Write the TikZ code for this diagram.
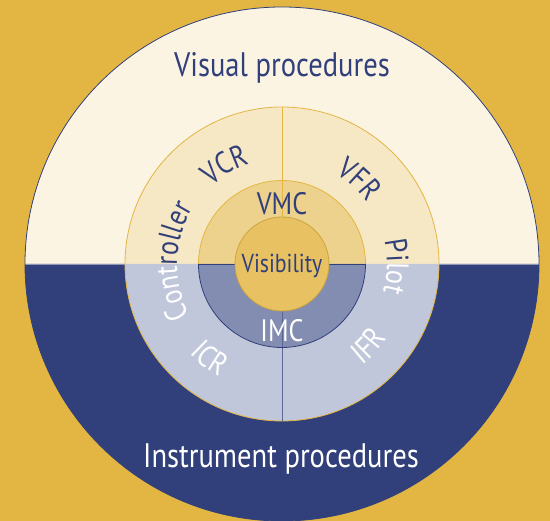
\documentclass[tikz,border=0pt]{standalone}
\usepackage{fontspec}
\setmainfont[FakeStretch=0.84]{PT Sans}
\usetikzlibrary{decorations.text}

\definecolor{proc_gold}{HTML}{E3B643}
\definecolor{vis_cream}{HTML}{FBF4E3}
\definecolor{vis_light}{HTML}{F7E8C5}
\definecolor{vis_mid}{HTML}{EDD28D}
\definecolor{vis_core}{HTML}{E8C262}
\definecolor{ins_navy}{HTML}{31407B}
\definecolor{ins_light}{HTML}{C1C7DA}
\definecolor{ins_mid}{HTML}{838CB1}

\newcommand{\titlefont}{\fontsize{34}{34}\selectfont}
\newcommand{\ringfont}{\fontsize{31}{31}\selectfont}

% #1 colour, #2 word, #3 start angle, #4 end angle, #5 radius of the baseline
\newcommand{\ringword}[5]{
    \path[decorate, decoration={text along path, text color=#1, text align=center,
        text={|\ringfont|#2}}] (#3:#5) arc[start angle=#3, end angle=#4, radius=#5];
}

\begin{document}
\begin{tikzpicture}[x=1pt, y=1pt]
    \useasboundingbox (-282,-257) rectangle (268,264);
    \fill[proc_gold] (-282,-257) rectangle (268,264);

    % outer disc
    \fill[vis_cream] (0,0) -- (257,0) arc[start angle=0, end angle=180, radius=257] -- cycle;
    \fill[ins_navy] (0,0) -- (-257,0) arc[start angle=180, end angle=360, radius=257] -- cycle;
    \draw[ins_navy!55, line width=0.8] (-257,0) -- (257,0);
    \draw[ins_navy, line width=0.8] (0,0) circle[radius=257];

    % middle ring
    \fill[vis_light] (0,0) -- (157,0) arc[start angle=0, end angle=180, radius=157] -- cycle;
    \fill[ins_light] (0,0) -- (-157,0) arc[start angle=180, end angle=360, radius=157] -- cycle;
    \draw[proc_gold, line width=0.8] (0,0) circle[radius=157];

    % inner ring
    \fill[vis_mid] (0,0) -- (83.5,0) arc[start angle=0, end angle=180, radius=83.5] -- cycle;
    \fill[ins_mid] (0,0) -- (-83.5,0) arc[start angle=180, end angle=360, radius=83.5] -- cycle;
    \draw[proc_gold, line width=0.8] (0,47) -- (0,157);
    \draw[ins_navy!80, line width=0.8] (0,-47) -- (0,-157);
    \draw[ins_navy, line width=0.8] (-83.5,0) -- (-47,0) (47,0) -- (83.5,0);
    \draw[proc_gold, line width=0.8] (83.5,0) arc[start angle=0, end angle=180, radius=83.5];
    \draw[ins_navy, line width=0.8] (-83.5,0) arc[start angle=180, end angle=360, radius=83.5];

    % core
    \filldraw[fill=vis_core, draw=proc_gold!90!black, line width=0.8] (0,0) circle[radius=47];

    \node[font=\titlefont, text=ins_navy, anchor=base, inner sep=0] (visual) at (0,187) {Visual procedures};
    \node[font=\titlefont, text=white, anchor=base, inner sep=0] (instrument) at (-1,-204) {Instrument procedures};
    \node[font=\ringfont, text=ins_navy, anchor=base, inner sep=0] (vmc) at (0,49) {VMC};
    \node[font=\ringfont, text=white, anchor=base, inner sep=0] (imc) at (0,-78) {IMC};
    \node[font=\fontsize{26}{26}\selectfont, text=ins_navy, anchor=base, inner sep=0] (visibility) at (0,-9) {Visibility};

    \ringword{ins_navy}{VCR}{150}{90}{105}
    \ringword{ins_navy}{VFR}{77.5}{17.5}{105}
    \ringword{white}{ICR}{-157.5}{-97.5}{129}
    \ringword{white}{IFR}{-73.5}{-13.5}{129}

    % these two cross the split, so each half gets its own colour
    \begin{scope}
        \clip (-282,0) rectangle (268,264);
        \ringword{ins_navy}{Controller}{223.5}{133.5}{105}
        \ringword{ins_navy}{Pilot}{28.5}{-31.5}{105}
    \end{scope}
    \begin{scope}
        \clip (-282,-257) rectangle (268,0);
        \ringword{white}{Controller}{223.5}{133.5}{105}
        \ringword{white}{Pilot}{28.5}{-31.5}{105}
    \end{scope}
\end{tikzpicture}
\end{document}
